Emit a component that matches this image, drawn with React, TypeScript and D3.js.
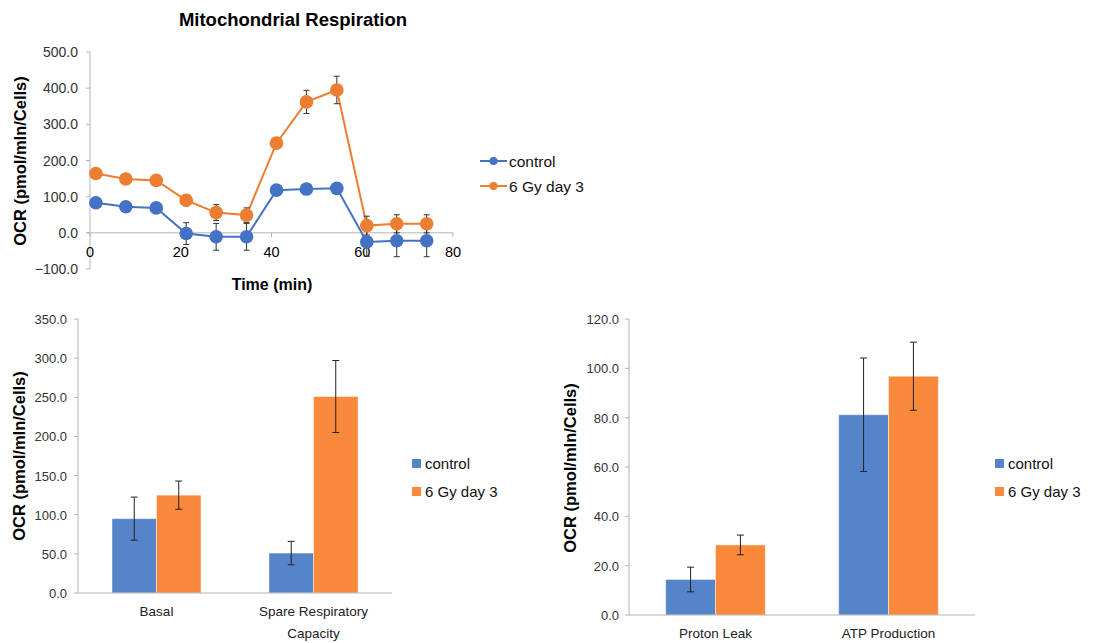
import React from 'react';
import * as d3 from 'd3';

// time course (Seahorse style)
const times = [1.3, 7.9, 14.6, 21.2, 27.8, 34.5, 41.1, 47.7, 54.4, 61.0, 67.6, 74.2];
const controlOcr = [83, 72, 69, -2, -11, -11, 118, 121, 123, -25, -22, -22];
const controlOcrErr = [14, 10, 11, 30, 37, 37, 8, 8, 8, 40, 44, 44];
const gyOcr = [164, 149, 145, 90, 56, 49, 248, 362, 395, 20, 25, 25];
const gyOcrErr = [8, 8, 8, 15, 22, 20, 10, 32, 38, 26, 25, 25];
const timeTicks = [0, 20, 40, 60, 80];
const ocrTicks = [-100, 0, 100, 200, 300, 400, 500];

// bar panels
const seriesNames = ['control', '6 Gy day 3'];
const capacityCats = ['Basal', 'Spare Respiratory Capacity'];
const capacityControl = [95, 51];
const capacityControlErr = [27.5, 15];
const capacityGy = [125, 251];
const capacityGyErr = [18, 46];
const capacityTicks = [0, 50, 100, 150, 200, 250, 300, 350];

const leakCats = ['Proton Leak', 'ATP Production'];
const leakControl = [14.4, 81.2];
const leakControlErr = [5, 23];
const leakGy = [28.4, 96.8];
const leakGyErr = [4, 13.8];
const leakTicks = [0, 20, 40, 60, 80, 100, 120];

const LINE_BLUE = '#4472C4';
const LINE_ORANGE = '#ED7D31';
const BAR_BLUE = '#5585C8';
const BAR_ORANGE = '#F98A3C';
const AXIS = '#B4B4B4';
const FONT = '"Liberation Sans", Arial, sans-serif';
const fmt = d3.format('.1f');

const catLines: Record<string, string[]> = {
  'Spare Respiratory Capacity': ['Spare Respiratory', 'Capacity'],
};

function TimeCourse() {
  const x = d3.scaleLinear().domain([0, 80]).range([90, 453]);
  const y = d3.scaleLinear().domain([-100, 500]).range([269, 52]);
  const series = [
    { name: seriesNames[0], vals: controlOcr, err: controlOcrErr, color: LINE_BLUE },
    { name: seriesNames[1], vals: gyOcr, err: gyOcrErr, color: LINE_ORANGE },
  ];
  const line = d3.line<number>().x((_, i) => x(times[i])).y(d => y(d));

  return (
    <g>
      <text x={293} y={26} textAnchor="middle" fontSize={18.5} fontWeight="bold" fill="#000">
        Mitochondrial Respiration
      </text>
      {/* y axis */}
      <line x1={x(0)} x2={x(0)} y1={y(500)} y2={y(-100)} stroke={AXIS} />
      {ocrTicks.map(t => (
        <g key={t}>
          <line x1={x(0) - 4} x2={x(0)} y1={y(t)} y2={y(t)} stroke={AXIS} />
          <text x={78} y={y(t) + 5} textAnchor="end" fontSize={14} fill="#333">{fmt(t)}</text>
        </g>
      ))}
      {/* x axis at zero */}
      <line x1={x(0) - 3} x2={x(80)} y1={y(0)} y2={y(0)} stroke={AXIS} />
      {timeTicks.map(t => (
        <g key={t}>
          <line x1={x(t)} x2={x(t)} y1={y(0)} y2={y(0) + 4} stroke={AXIS} />
          <text x={x(t)} y={257} textAnchor="middle" fontSize={14.5} fill="#000">{t}</text>
        </g>
      ))}
      <text x={272} y={290} textAnchor="middle" fontSize={16} fontWeight="bold">Time (min)</text>
      <text transform={`translate(26,161) rotate(-90)`} textAnchor="middle" fontSize={16.5} fontWeight="bold">
        OCR (pmol/mln/Cells)
      </text>

      {series.map(s => (
        <g key={s.name}>
          <path d={line(s.vals) || ''} fill="none" stroke={s.color} strokeWidth={2} />
          {s.vals.map((v, i) => (
            <g key={i} stroke="#333" strokeWidth={1}>
              <line x1={x(times[i])} x2={x(times[i])} y1={y(v - s.err[i])} y2={y(v + s.err[i])} />
              <line x1={x(times[i]) - 3} x2={x(times[i]) + 3} y1={y(v - s.err[i])} y2={y(v - s.err[i])} />
              <line x1={x(times[i]) - 3} x2={x(times[i]) + 3} y1={y(v + s.err[i])} y2={y(v + s.err[i])} />
            </g>
          ))}
        </g>
      ))}
      {series.map(s => (
        <g key={s.name + 'm'}>
          {s.vals.map((v, i) => (
            <circle key={i} cx={x(times[i])} cy={y(v)} r={6.8} fill={s.color} />
          ))}
        </g>
      ))}

      {/* legend */}
      {series.map((s, i) => (
        <g key={s.name + 'l'} transform={`translate(480,${161 + i * 25})`}>
          <line x1={0} x2={27} y1={0} y2={0} stroke={s.color} strokeWidth={2} />
          <circle cx={13.5} cy={0} r={4} fill={s.color} />
          <text x={29} y={5.5} fontSize={15.5} fill="#111">{s.name}</text>
        </g>
      ))}
    </g>
  );
}

type BarProps = {
  cats: string[];
  ctrl: number[];
  ctrlErr: number[];
  gy: number[];
  gyErr: number[];
  ticks: number[];
  xRange: [number, number];
  yRange: [number, number];
  labelEnd: number;
  yLabelX: number;
  yLabelY: number;
  legendX: number;
  groupPad: number;
};

function BarPanel(p: BarProps) {
  const max = p.ticks[p.ticks.length - 1];
  const x = d3.scaleBand().domain(p.cats).range(p.xRange).paddingInner(p.groupPad).paddingOuter(p.groupPad / 2);
  const xs = d3.scaleBand().domain(seriesNames).range([0, x.bandwidth()]);
  const y = d3.scaleLinear().domain([0, max]).range(p.yRange);
  const series = [
    { name: seriesNames[0], vals: p.ctrl, err: p.ctrlErr, color: BAR_BLUE },
    { name: seriesNames[1], vals: p.gy, err: p.gyErr, color: BAR_ORANGE },
  ];
  const x0 = p.xRange[0];

  return (
    <g>
      <line x1={x0} x2={x0} y1={y(max)} y2={y(0)} stroke={AXIS} />
      {p.ticks.map(t => (
        <g key={t}>
          <line x1={x0 - 4} x2={x0} y1={y(t)} y2={y(t)} stroke={AXIS} />
          <text x={p.labelEnd} y={y(t) + 5} textAnchor="end" fontSize={13} fill="#333">{fmt(t)}</text>
        </g>
      ))}
      {series.map(s => (
        <g key={s.name}>
          {s.vals.map((v, i) => (
            <rect key={i} x={(x(p.cats[i]) || 0) + (xs(s.name) || 0)} y={y(v)}
              width={xs.bandwidth()} height={y(0) - y(v)} fill={s.color}
              stroke="#ffffff" strokeOpacity={0.45} strokeWidth={1} />
          ))}
        </g>
      ))}
      <line x1={x0} x2={p.xRange[1]} y1={y(0)} y2={y(0)} stroke={AXIS} />
      {series.map(s => (
        <g key={s.name + 'e'} stroke="#222" strokeWidth={1}>
          {s.vals.map((v, i) => {
            const cx = (x(p.cats[i]) || 0) + (xs(s.name) || 0) + xs.bandwidth() / 2;
            return (
              <g key={i}>
                <line x1={cx} x2={cx} y1={y(v - s.err[i])} y2={y(v + s.err[i])} />
                <line x1={cx - 3.5} x2={cx + 3.5} y1={y(v - s.err[i])} y2={y(v - s.err[i])} />
                <line x1={cx - 3.5} x2={cx + 3.5} y1={y(v + s.err[i])} y2={y(v + s.err[i])} />
              </g>
            );
          })}
        </g>
      ))}
      {p.cats.map(c => {
        const lines = catLines[c] || [c];
        return (
          <text key={c} x={(x(c) || 0) + x.bandwidth() / 2} y={y(0) + 23} textAnchor="middle" fontSize={13.5} fill="#222">
            {lines.map((l, i) => (
              <tspan key={i} x={(x(c) || 0) + x.bandwidth() / 2} dy={i === 0 ? 0 : 22}>{l}</tspan>
            ))}
          </text>
        );
      })}
      <text transform={`translate(${p.yLabelX},${p.yLabelY}) rotate(-90)`} textAnchor="middle" fontSize={16.5} fontWeight="bold">
        OCR (pmol/mln/Cells)
      </text>
      {series.map((s, i) => (
        <g key={s.name + 'l'} transform={`translate(${p.legendX},${459 + i * 28})`}>
          <rect x={0} y={0} width={9} height={9} fill={s.color} />
          <text x={13} y={10} fontSize={15} fill="#111">{s.name}</text>
        </g>
      ))}
    </g>
  );
}

export default function App() {
  return (
    <div style={{ position: 'absolute', left: 0, top: 0 }}>
      <svg width={1119} height={643} style={{ display: 'block', background: '#fff', fontFamily: FONT }}>
        <TimeCourse />
        <BarPanel cats={capacityCats} ctrl={capacityControl} ctrlErr={capacityControlErr}
          gy={capacityGy} gyErr={capacityGyErr} ticks={capacityTicks}
          xRange={[78, 392]} yRange={[593, 319]} labelEnd={67}
          yLabelX={25} yLabelY={456} legendX={412} groupPad={0.433} />
        <BarPanel cats={leakCats} ctrl={leakControl} ctrlErr={leakControlErr}
          gy={leakGy} gyErr={leakGyErr} ticks={leakTicks}
          xRange={[629, 975]} yRange={[615, 319]} labelEnd={619}
          yLabelX={576} yLabelY={468} legendX={995} groupPad={0.424} />
      </svg>
    </div>
  );
}
